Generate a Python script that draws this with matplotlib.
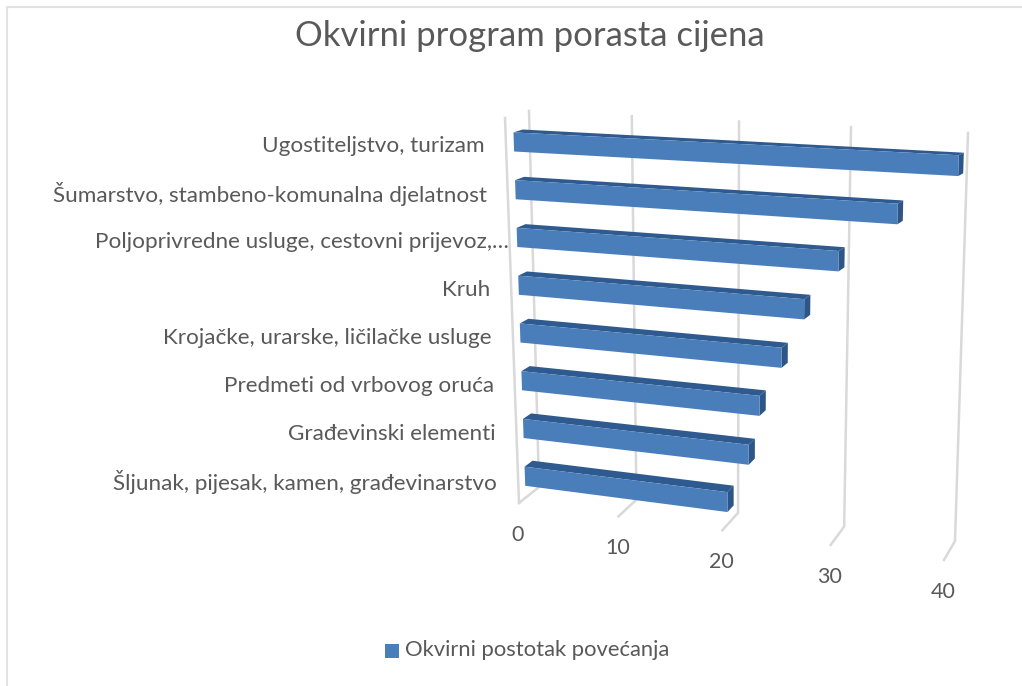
import matplotlib
matplotlib.use("Agg")
import matplotlib.pyplot as plt
from matplotlib.patches import Polygon, Rectangle

plt.rcParams['font.family'] = ['Lato', 'DejaVu Sans']

# Data
categories = [
    "Ugostiteljstvo, turizam",
    "Šumarstvo, stambeno-komunalna djelatnost",
    "Poljoprivredne usluge, cestovni prijevoz,…",
    "Kruh",
    "Krojačke, urarske, ličilačke usluge",
    "Predmeti od vrbovog oruća",
    "Građevinski elementi",
    "Šljunak, pijesak, kamen, građevinarstvo",
]
values = [40, 35, 30, 27, 25, 23, 22, 20]
ticks = [0, 10, 20, 30, 40]
series_name = "Okvirni postotak povećanja"
title = "Okvirni program porasta cijena"

TEXT = '#595959'
GRID = '#d9d9d9'
FRONT = '#4a7ebb'
DARK = '#2f5a8f'
VMAX = 40

# corners of the 3D box in figure pixels: (v=0, v=VMAX)
back_top = ((529, 111), (968, 133))
back_bot = ((539, 487), (955, 541))
front_top = ((505, 118), (955, 139))
front_bot = ((519, 503), (944, 560))


def lerp(a, b, t):
    return (a[0] + (b[0] - a[0]) * t, a[1] + (b[1] - a[1]) * t)


# v: value, h: 0 top of the box .. 1 floor, d: 0 front .. 1 back
def project(v, h, d):
    t = v / VMAX
    s = t / (t + 1.09 * (1 - t))  # perspective along the value axis
    top = lerp(lerp(*front_top, s), lerp(*back_top, s), d)
    bot = lerp(lerp(*front_bot, s), lerp(*back_bot, s), d)
    return lerp(top, bot, h)


fig = plt.figure(figsize=(10.22, 6.86), dpi=100)
ax = fig.add_axes([0, 0, 1, 1])
ax.set_xlim(0, 1022)
ax.set_ylim(686, 0)
ax.axis('off')

# chart frame, only top and left show in the screenshot
ax.plot([7, 7, 1022], [686, 7, 7], color='#e2e2e2', lw=1.5)

ax.text(530, 36, title, fontsize=24.9, color=TEXT, ha='center', va='center')

# walls and floor
for tv in ticks:
    a, b, c = project(tv, 0, 1), project(tv, 1, 1), project(tv, 1, 0)
    ax.plot([a[0], b[0], c[0]], [a[1], b[1], c[1]], color=GRID, lw=1.8, zorder=1)
    ax.text(c[0] - 1, c[1] + 32, str(tv), fontsize=15.5, color=TEXT, ha='center', va='center')
w0, w1 = project(0, 0, 0), project(0, 1, 0)
ax.plot([w0[0], w1[0]], [w0[1], w1[1]], color=GRID, lw=1.8, zorder=1)

# bars
n = len(categories)
d0, d1 = 0.33, 0.72
lo, hi = 0.35, 0.75
for i, (name, val) in enumerate(zip(categories, values)):
    h0, h1 = (i + lo) / n, (i + hi) / n
    front = [project(0, h0, d0), project(val, h0, d0), project(val, h1, d0), project(0, h1, d0)]
    top = [project(0, h0, d0), project(val, h0, d0), project(val, h0, d1), project(0, h0, d1)]
    side = [project(val, h0, d0), project(val, h0, d1), project(val, h1, d1), project(val, h1, d0)]
    ax.add_patch(Polygon(top, closed=True, fc=DARK, ec='none', zorder=3))
    ax.add_patch(Polygon(side, closed=True, fc='#2d5587', ec='none', zorder=3))
    ax.add_patch(Polygon(front, closed=True, fc=FRONT, ec='none', zorder=4))

    wx, wy = project(0, (i + 0.53) / n, 0)
    pad = 1 if name.endswith('…') else 21
    ax.text(wx - pad, wy + 2, name, fontsize=16.2, color=TEXT, ha='right', va='center')

# legend
ax.add_patch(Rectangle((385, 644), 14, 14, fc=FRONT, ec='none'))
ax.text(405, 650, series_name, fontsize=15.8, color=TEXT, ha='left', va='center')

fig.savefig('out.png', dpi=100)
